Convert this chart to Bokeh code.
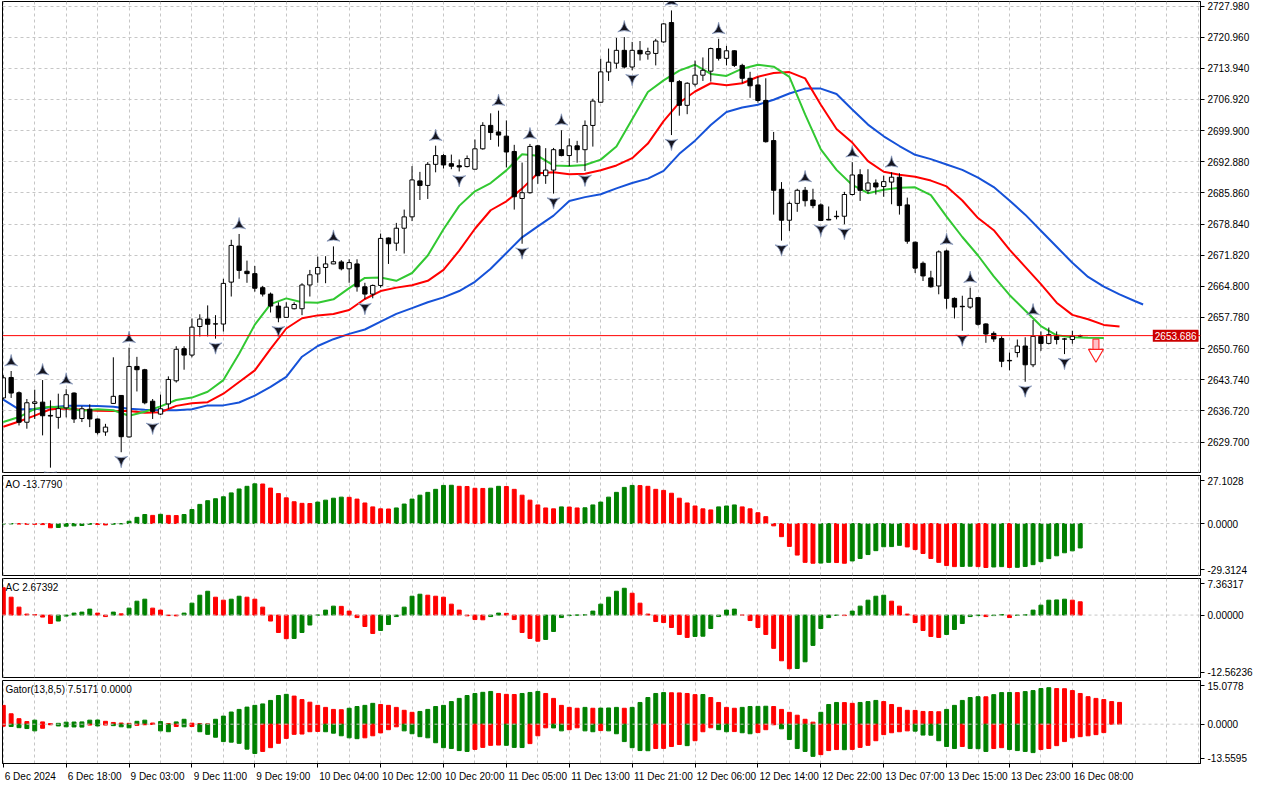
import math
from bokeh.plotting import figure
from bokeh.layouts import column
from bokeh.models import (Range1d, FixedTicker, LinearAxis, Grid, Span, Label,
                          PrintfTickFormatter, ColumnDataSource)
from bokeh.embed import file_html
from bokeh.resources import INLINE

# ---------------- data ----------------
time_labels = ["6 Dec 2024", "6 Dec 18:00", "9 Dec 03:00", "9 Dec 11:00", "9 Dec 19:00",
               "10 Dec 04:00", "10 Dec 12:00", "10 Dec 20:00", "11 Dec 05:00", "11 Dec 13:00",
               "11 Dec 21:00", "12 Dec 06:00", "12 Dec 14:00", "12 Dec 22:00", "13 Dec 07:00",
               "13 Dec 15:00", "13 Dec 23:00", "16 Dec 08:00"]
time_label_bars = [0, 8, 16, 24, 32, 40, 48, 56, 64, 72, 80, 88, 96, 104, 112, 120, 128, 136]

price_ticks = [2629.700, 2636.720, 2643.740, 2650.760, 2657.780, 2664.800, 2671.820, 2678.840,
               2685.860, 2692.880, 2699.900, 2706.920, 2713.940, 2720.960, 2727.980]
current_price = 2653.686

open_ = [2639.64, 2644.25, 2640.81, 2634.16, 2638.40, 2638.69, 2635.70, 2635.26, 2637.40, 2640.74,
         2635.00, 2637.10, 2634.89, 2631.96, 2638.40, 2640.20, 2630.85, 2646.74, 2646.00, 2638.90,
         2636.00, 2638.30, 2643.50, 2650.75, 2649.30, 2655.74, 2657.42, 2656.30, 2656.30, 2665.75,
         2673.87, 2668.20, 2667.66, 2664.50, 2663.05, 2660.35, 2657.80, 2659.75, 2659.75, 2665.10,
         2667.60, 2669.05, 2669.85, 2670.30, 2668.75, 2669.85, 2664.70, 2663.05, 2665.00, 2675.70,
         2674.53, 2677.90, 2680.46, 2688.57, 2687.55, 2692.30, 2694.28, 2692.45, 2692.00, 2691.80,
         2691.20, 2695.80, 2701.08, 2699.60, 2698.66, 2695.20, 2684.60, 2685.90, 2696.47, 2689.74,
         2691.00, 2695.60, 2694.28, 2696.47, 2695.60, 2701.07, 2706.30, 2713.14, 2715.10, 2718.00,
         2714.24, 2718.00, 2717.16, 2717.30, 2719.90, 2724.26, 2710.95, 2705.60, 2710.37, 2712.40,
         2713.30, 2718.40, 2716.20, 2717.90, 2714.60, 2711.70, 2710.20, 2706.70, 2697.65, 2686.67,
         2679.70, 2683.50, 2686.45, 2684.26, 2683.16, 2679.90, 2680.60, 2680.60, 2685.50, 2689.96,
         2686.45, 2688.10, 2687.30, 2688.30, 2689.40, 2683.16, 2674.75, 2669.99, 2666.70, 2664.88,
         2672.78, 2662.09, 2660.30, 2660.12, 2662.25, 2656.32, 2654.19, 2653.03, 2648.10, 2649.87,
         2651.34, 2647.11, 2653.53, 2651.93, 2653.53, 2652.94, 2652.81, 2653.60]
high = [2644.76, 2645.71, 2641.10, 2639.40, 2641.50, 2643.67, 2639.10, 2640.60, 2641.60, 2640.90,
        2637.80, 2638.20, 2635.00, 2633.80, 2648.80, 2640.30, 2650.97, 2648.90, 2646.20, 2639.40,
        2640.40, 2644.50, 2651.30, 2651.30, 2657.56, 2658.50, 2660.50, 2658.30, 2666.50, 2675.30,
        2676.60, 2670.60, 2669.40, 2664.90, 2663.40, 2661.20, 2661.20, 2661.20, 2665.50, 2668.50,
        2671.50, 2671.60, 2673.80, 2670.70, 2670.90, 2670.90, 2665.60, 2665.20, 2676.70, 2675.80,
        2679.10, 2682.10, 2691.90, 2690.60, 2692.80, 2696.50, 2694.60, 2694.50, 2693.40, 2694.30,
        2697.90, 2701.80, 2703.80, 2704.40, 2702.20, 2696.70, 2692.70, 2696.90, 2696.70, 2695.95,
        2696.00, 2699.98, 2698.15, 2697.60, 2702.20, 2707.10, 2716.10, 2718.40, 2720.80, 2721.00,
        2719.90, 2720.10, 2718.60, 2720.60, 2724.10, 2727.00, 2711.30, 2710.80, 2715.70, 2716.40,
        2718.60, 2720.60, 2719.00, 2718.00, 2714.97, 2713.15, 2712.05, 2711.70, 2699.60, 2688.30,
        2683.90, 2686.80, 2687.20, 2686.80, 2683.50, 2682.80, 2681.85, 2686.10, 2692.80, 2691.20,
        2691.20, 2688.90, 2689.75, 2690.50, 2690.30, 2684.80, 2674.89, 2670.40, 2668.30, 2672.90,
        2673.07, 2662.30, 2662.68, 2664.50, 2662.30, 2656.46, 2654.63, 2653.53, 2649.87, 2652.81,
        2653.32, 2657.20, 2654.63, 2655.51, 2654.63, 2653.16, 2654.79, 2653.90]
low = [2639.28, 2639.64, 2633.43, 2632.70, 2634.90, 2631.20, 2623.92, 2632.70, 2635.26, 2634.00,
       2634.20, 2633.06, 2631.40, 2631.10, 2638.30, 2627.40, 2630.70, 2641.10, 2638.20, 2634.90,
       2635.80, 2637.20, 2643.10, 2646.00, 2648.80, 2653.50, 2653.50, 2653.00, 2654.60, 2662.50,
       2666.50, 2665.60, 2663.60, 2662.50, 2658.90, 2656.70, 2657.70, 2659.60, 2658.30, 2662.50,
       2665.60, 2665.50, 2669.80, 2668.40, 2665.60, 2663.60, 2661.90, 2662.10, 2664.50, 2669.85,
       2672.80, 2672.20, 2679.50, 2684.26, 2684.50, 2690.50, 2691.35, 2691.20, 2690.70, 2691.60,
       2691.20, 2695.60, 2697.80, 2696.30, 2691.60, 2682.10, 2674.40, 2685.70, 2687.90, 2687.90,
       2685.70, 2694.10, 2691.90, 2692.67, 2690.80, 2696.30, 2706.20, 2711.10, 2713.90, 2713.90,
       2713.50, 2715.70, 2715.90, 2714.60, 2719.70, 2698.90, 2703.27, 2703.60, 2709.85, 2711.10,
       2710.95, 2715.70, 2714.60, 2714.24, 2710.60, 2707.30, 2706.20, 2697.20, 2680.97, 2675.10,
       2677.30, 2681.60, 2682.80, 2682.40, 2679.50, 2679.70, 2679.90, 2678.80, 2685.30, 2684.05,
       2685.70, 2685.50, 2684.99, 2683.30, 2680.97, 2674.40, 2667.80, 2666.00, 2664.50, 2663.00,
       2659.75, 2657.55, 2654.79, 2659.75, 2655.95, 2652.07, 2652.29, 2646.58, 2645.86, 2648.78,
       2643.29, 2646.58, 2650.25, 2651.71, 2651.71, 2649.52, 2651.85, 2653.40]
close = [2644.18, 2640.74, 2634.16, 2638.55, 2638.75, 2635.62, 2635.55, 2637.23, 2640.37, 2634.89,
         2637.20, 2634.90, 2631.82, 2633.06, 2640.00, 2630.90, 2646.74, 2646.00, 2638.55, 2636.60,
         2637.20, 2643.80, 2650.60, 2649.30, 2655.60, 2657.42, 2656.25, 2656.35, 2665.46, 2674.02,
         2668.39, 2667.66, 2664.37, 2663.05, 2660.35, 2657.70, 2660.10, 2660.70, 2665.10, 2667.40,
         2669.05, 2669.85, 2670.35, 2668.75, 2670.15, 2664.70, 2663.05, 2665.00, 2675.60, 2674.40,
         2677.90, 2680.46, 2688.79, 2687.55, 2692.30, 2694.28, 2692.16, 2691.87, 2691.70, 2693.60,
         2695.80, 2701.08, 2699.47, 2698.90, 2695.08, 2685.00, 2685.90, 2696.33, 2689.74, 2691.00,
         2695.60, 2694.28, 2696.47, 2695.60, 2701.07, 2706.56, 2713.14, 2715.33, 2718.00, 2714.24,
         2718.00, 2717.20, 2717.70, 2720.10, 2723.96, 2710.95, 2705.60, 2710.58, 2712.40, 2713.50,
         2718.40, 2716.20, 2717.90, 2714.60, 2711.70, 2710.00, 2706.70, 2697.40, 2686.45, 2679.70,
         2683.50, 2686.45, 2684.10, 2683.00, 2679.65, 2679.75, 2680.50, 2685.50, 2689.90, 2686.45,
         2688.10, 2687.20, 2688.40, 2689.40, 2683.00, 2674.97, 2668.90, 2667.14, 2664.70, 2672.56,
         2662.09, 2660.12, 2660.20, 2662.09, 2656.24, 2654.04, 2652.94, 2647.90, 2648.00, 2651.34,
         2647.11, 2653.53, 2651.93, 2653.91, 2652.81, 2652.90, 2653.53, 2653.686]

up_fractals = [1, 5, 8, 16, 30, 42, 55, 63, 67, 71, 79, 85, 91, 102, 108, 113, 120, 123, 131]
down_fractals = [6, 15, 19, 27, 35, 46, 58, 66, 70, 74, 80, 85, 99, 104, 107, 122, 130, 135]
sell_signal_bar = 139
sell_signal_price = 2652.9

# Alligator lines (jaw/teeth/lips) read every 2 bars, drawn with their forward shift
jaw_bars = list(range(0, 145, 2)) + [145]
jaw = [2639.28, 2637.08, 2637.08, 2637.52, 2637.85, 2637.85, 2637.81, 2637.63, 2637.19, 2636.97,
       2636.86, 2636.86, 2637.08, 2637.96, 2637.96, 2638.62, 2640.15, 2642.13, 2644.39, 2648.93,
       2651.34, 2652.88, 2654.08, 2655.07, 2656.83, 2658.58, 2659.90, 2661.22, 2662.31, 2663.74,
       2665.82, 2668.78, 2672.30, 2675.85, 2678.33, 2680.74, 2684.03, 2684.91, 2685.57, 2686.88,
       2688.09, 2689.08, 2690.83, 2694.67, 2697.64, 2701.15, 2704.11, 2705.10, 2705.75, 2706.85,
       2708.28, 2709.37, 2709.37, 2708.17, 2704.66, 2701.26, 2698.62, 2696.43, 2694.45, 2693.47,
       2692.26, 2691.05, 2689.30, 2687.17, 2684.14, 2680.96, 2677.34, 2673.72, 2670.10, 2666.92,
       2664.73, 2662.97, 2661.44, 2660.71]
teeth_bars = list(range(0, 143, 2))
teeth = [2633.13, 2634.34, 2635.66, 2637.08, 2637.24, 2636.97, 2636.75, 2636.71, 2636.71, 2636.31,
         2636.42, 2637.85, 2638.46, 2638.68, 2640.59, 2643.23, 2645.86, 2650.68, 2655.29, 2657.60,
         2658.25, 2658.58, 2659.46, 2661.94, 2663.74, 2664.51, 2665.06, 2666.04, 2668.52, 2672.84,
         2677.78, 2681.95, 2683.97, 2686.83, 2690.29, 2690.51, 2690.07, 2690.18, 2690.95, 2692.05,
         2693.69, 2696.98, 2702.03, 2706.19, 2708.72, 2710.58, 2710.14, 2710.58, 2712.05, 2712.88,
         2713.10, 2711.68, 2705.75, 2700.27, 2697.20, 2693.03, 2690.62, 2689.96, 2689.52, 2688.64,
         2687.32, 2684.14, 2680.19, 2677.45, 2673.06, 2669.18, 2665.30, 2661.11, 2658.36, 2657.37,
         2656.10, 2655.73]
lips_bars = list(range(0, 141, 2))
lips = [2634.23, 2635.33, 2637.19, 2637.67, 2637.45, 2636.75, 2637.08, 2636.86, 2635.61, 2636.53,
        2637.74, 2639.17, 2639.72, 2641.03, 2643.66, 2649.59, 2656.17, 2660.78, 2662.09, 2661.22,
        2661.11, 2661.87, 2664.40, 2666.70, 2666.81, 2666.04, 2667.80, 2671.75, 2677.67, 2682.94,
        2686.23, 2688.09, 2690.94, 2694.56, 2694.23, 2692.05, 2691.94, 2692.16, 2693.36, 2696.32,
        2702.46, 2708.61, 2711.24, 2713.43, 2714.75, 2712.67, 2712.23, 2713.87, 2714.75, 2714.31,
        2712.01, 2703.56, 2695.66, 2691.05, 2687.65, 2685.79, 2686.56, 2687.00, 2687.11, 2685.35,
        2680.52, 2675.92, 2671.75, 2667.03, 2662.86, 2659.35, 2655.84, 2653.75, 2653.32, 2653.21,
        2653.16]

ao = [-0.3, -0.2, -0.3, -0.4, -0.45, -0.6, -2.4, -2.2, -1.5, -1.3,
      -1.1, -0.4, -0.5, -0.8, -0.35, -0.2, 1.3, 3.5, 5.1, 4.6,
      5.2, 4.6, 4.5, 5.1, 7.9, 10.8, 12.9, 14.0, 15.1, 17.3,
      19.5, 21.0, 22.4, 22.3, 20.0, 16.9, 14.5, 12.3, 11.4, 11.3,
      12.1, 13.2, 14.3, 14.9, 14.8, 13.8, 11.6, 9.4, 8.3, 8.2,
      8.8, 11.0, 13.8, 16.0, 17.6, 19.3, 21.5, 21.6, 21.0, 20.9,
      19.9, 19.8, 19.95, 21.0, 20.9, 19.3, 16.0, 13.2, 10.5, 8.8,
      8.3, 9.4, 9.3, 8.8, 8.9, 10.5, 12.1, 14.9, 17.6, 20.4,
      21.5, 21.4, 21.0, 19.3, 18.7, 17.1, 14.3, 11.6, 9.9, 8.3,
      7.7, 9.4, 9.9, 10.5, 9.4, 8.3, 6.1, 3.9, -1.3, -7.4,
      -12.9, -17.8, -21.9, -22.4, -22.3, -21.9, -22.0, -22.4, -21.1, -19.7,
      -17.5, -15.3, -13.1, -13.0, -12.3, -13.2, -14.7, -16.9, -19.7, -21.9,
      -23.7, -24.3, -24.2, -24.1, -24.3, -24.8, -24.5, -24.3, -24.8, -24.7,
      -24.2, -23.2, -21.5, -19.8, -18.2, -16.5, -15.4, -13.779]
ac = [5.5, 3.6, 1.6, 0.2, 0.1, -0.4, -1.7, -1.2, -0.2, 0.4,
      0.6, 1.2, 0.4, -0.3, 0.6, 0.25, 1.4, 2.8, 3.2, 1.4,
      1.0, -0.1, -0.15, 0.4, 2.4, 4.0, 4.8, 3.6, 3.0, 3.2,
      3.8, 3.6, 3.2, 1.6, -1.2, -3.5, -4.75, -4.7, -3.5, -2.0,
      0.0, 1.0, 1.8, 1.75, 0.8, -0.5, -2.3, -3.7, -3.1, -1.9,
      -0.3, 1.6, 3.8, 4.2, 4.0, 3.8, 3.6, 2.2, 1.0, -0.15,
      -0.9, -0.95, -0.3, 0.4, 0.35, -0.9, -3.5, -4.7, -5.25, -4.9,
      -3.3, -0.5, -0.1, 0.0, 0.05, 0.8, 2.2, 3.6, 4.8, 5.4,
      4.4, 2.4, 0.2, -1.3, -1.5, -2.5, -3.9, -4.5, -4.3, -4.25,
      -2.7, -0.3, 1.0, 1.2, 0.0, -1.1, -2.5, -3.9, -6.7, -9.2,
      -10.8, -10.75, -9.4, -6.1, -2.7, -0.5, -0.05, -0.1, 0.8, 1.8,
      3.0, 3.8, 4.0, 2.8, 1.8, 0.2, -1.5, -3.1, -4.3, -4.5,
      -3.9, -2.9, -1.7, -0.3, -0.1, -0.3, -0.1, 0.1, -0.5, -0.05,
      0.05, 1.0, 2.0, 3.0, 3.05, 3.2, 3.0, 2.67392]
gator_upper = [6.5, 3.6, 1.9, 0.9, 1.4, 0.8, 0.2, 0.3, 0.7, 0.75,
               0.8, 1.4, 1.45, 1.0, 0.6, 0.4, 0.3, 1.0, 1.4, 0.4,
               0.9, 0.2, 0.8, 1.7, 0.35, 0.2, 0.1, 1.7, 2.8, 4.2,
               5.1, 5.9, 6.5, 7.0, 8.2, 9.9, 10.3, 9.7, 8.5, 7.6,
               6.5, 5.8, 5.1, 5.0, 5.5, 6.1, 6.5, 7.2, 6.8, 6.5,
               5.8, 4.8, 4.1, 4.4, 5.1, 6.1, 6.5, 7.8, 8.9, 9.9,
               10.6, 11.0, 11.3, 10.6, 10.3, 10.25, 10.6, 10.95, 11.3, 10.6,
               8.9, 6.5, 5.8, 5.5, 5.8, 5.5, 5.55, 5.6, 5.8, 5.5,
               5.8, 7.5, 9.2, 10.6, 10.9, 10.85, 10.8, 10.6, 10.2, 10.25,
               9.2, 7.5, 5.8, 5.5, 5.8, 6.1, 6.15, 6.2, 6.1, 5.1,
               4.1, 3.1, 1.7, 0.7, 4.1, 6.8, 7.5, 7.45, 7.2, 7.5,
               7.8, 8.2, 7.8, 6.8, 5.8, 4.8, 4.75, 4.4, 4.35, 4.3,
               5.1, 6.5, 8.2, 9.2, 9.5, 9.45, 10.2, 10.9, 10.95, 10.9,
               11.25, 11.6, 12.3, 12.6, 12.3, 12.25, 11.6, 10.6, 9.5, 8.9,
               8.5, 7.8, 7.5171]
gator_lower = [-0.7, -0.8, -1.2, -1.5, -2.3, -1.4, -0.2, -0.6, -0.9, -0.95,
               -1.0, -0.3, -0.6, -0.3, -0.5, -0.9, -1.25, -0.4, -0.2, -0.1,
               -2.3, -2.6, -0.8, -0.9, -0.8, -2.6, -3.5, -4.5, -6.0, -6.2,
               -6.6, -8.6, -10.1, -9.4, -8.1, -6.6, -4.9, -3.5, -3.4, -2.6,
               -2.5, -2.6, -3.1, -4.0, -4.7, -5.0, -4.7, -4.0, -3.0, -1.9,
               -0.9, -2.3, -3.3, -4.3, -4.7, -6.4, -8.1, -8.4, -9.1, -9.4,
               -8.7, -8.0, -7.3, -7.2, -7.3, -8.0, -8.05, -6.7, -4.0, -1.25,
               -1.3, -2.3, -1.9, -1.25, -2.3, -2.6, -2.2, -2.3, -3.3, -6.0,
               -8.1, -9.1, -9.15, -8.4, -8.35, -7.7, -7.0, -7.4, -5.7, -2.6,
               -1.25, -1.9, -2.6, -2.55, -2.95, -3.3, -2.9, -1.9, -0.2, -1.6,
               -5.3, -8.4, -9.4, -11.1, -10.5, -9.1, -8.75, -8.8, -8.7, -8.0,
               -7.3, -5.7, -3.6, -2.95, -2.6, -2.3, -2.4, -3.75, -3.8, -5.7,
               -7.7, -8.4, -7.7, -8.4, -8.45, -9.4, -8.4, -8.1, -8.75, -9.1,
               -9.4, -9.8, -8.75, -8.4, -7.4, -6.0, -4.7, -4.3, -4.0, -3.6,
               -2.9]

ao_range = (-29.3124, 27.1028)
ac_range = (-12.56236, 7.36317)
gator_range = (-13.5595, 15.0778)
price_range = (2622.83, 2729.01)

# ---------------- styling ----------------
FONT = "Liberation Sans"
FS = "10px"
FS_PX = 10.0
GREEN = "#008000"
RED = "#ff0000"
GRID = "#c6c6c6"
FRAME_W = 1198
X_LO, X_HI = -0.1, 152.3
PPB = FRAME_W / (X_HI - X_LO)
x_rng = Range1d(X_LO, X_HI)
grid_ticks = list(range(0, 153, 4))


def panel(frame_h, lo, hi, top=2, bottom=1):
    p = figure(frame_width=FRAME_W, frame_height=frame_h, x_range=x_rng,
               y_range=Range1d(lo, hi), output_backend="svg", toolbar_location=None,
               x_axis_location=None, y_axis_location="right",
               min_border_left=2, min_border_right=62, min_border_top=top,
               min_border_bottom=bottom, outline_line_color="black", outline_line_width=1,
               background_fill_color="white", border_fill_color="white")
    p.xgrid.visible = False
    p.ygrid.visible = False
    p.add_layout(Grid(dimension=0, ticker=FixedTicker(ticks=grid_ticks),
                      grid_line_color=GRID, grid_line_dash="3 3"))
    ax = p.yaxis[0]
    ax.axis_line_color = "black"
    ax.major_tick_out = 4
    ax.major_tick_in = 0
    ax.major_tick_line_color = "black"
    ax.minor_tick_line_color = None
    ax.major_label_text_font = FONT
    ax.major_label_text_font_size = FS
    ax.major_label_text_color = "black"
    ax.major_label_standoff = 3
    return p


def edge_ticks(p, rng, frame_h, labels):
    lo, hi = rng
    px = (hi - lo) / frame_h
    t_hi = round(hi - 5.0 * px, 5)
    t_lo = round(lo + 5.5 * px, 5)
    ax = p.yaxis[0]
    ax.ticker = FixedTicker(ticks=[t_lo, 0, t_hi], minor_ticks=[])
    ax.major_label_overrides = {t_lo: labels[0], 0: labels[1], t_hi: labels[2]}
    p.add_layout(Span(location=0, dimension="width", line_color=GRID, line_dash="3 3"))


def title(p, rng, text):
    p.add_layout(Label(x=X_LO, y=rng[1], x_offset=3, y_offset=-3, text=text,
                       text_font=FONT, text_font_size=FS, text_color="black",
                       text_baseline="top", text_align="left"))


def up_down_colors(vals, first, use_abs=False):
    cols = [first]
    for i in range(1, len(vals)):
        a, b = (abs(vals[i]), abs(vals[i - 1])) if use_abs else (vals[i], vals[i - 1])
        cols.append(GREEN if a > b else RED)
    return cols


# ---------------- price panel ----------------
PRICE_H = 471
pp = panel(PRICE_H, *price_range, top=1, bottom=1)
pp.add_layout(Grid(dimension=1, ticker=FixedTicker(ticks=price_ticks),
                   grid_line_color=GRID, grid_line_dash="3 3"))
pax = pp.yaxis[0]
pax.ticker = FixedTicker(ticks=price_ticks, minor_ticks=[])
pax.formatter = PrintfTickFormatter(format="%.3f")

bars = list(range(len(close)))
csrc = ColumnDataSource(dict(
    x=bars, high=high, low=low,
    top=[max(o, c) for o, c in zip(open_, close)],
    bottom=[min(o, c) for o, c in zip(open_, close)],
    fill=["white" if c >= o else "black" for o, c in zip(open_, close)]))

pp.line(jaw_bars, jaw, line_color="#1652d8", line_width=2)
pp.line(teeth_bars, teeth, line_color="#ff0000", line_width=2)
pp.line(lips_bars, lips, line_color="#32c832", line_width=2)

pp.segment(x0="x", y0="low", x1="x", y1="high", source=csrc, line_color="black", line_width=1)
pp.vbar(x="x", width=0.55, top="top", bottom="bottom", source=csrc,
        fill_color="fill", line_color="black", line_width=1)

pp.add_layout(Span(location=current_price, dimension="width", line_color="#ff0000", line_width=1))

px_price = (price_range[1] - price_range[0]) / PRICE_H
pp.scatter(up_fractals, [high[i] + 9 * px_price for i in up_fractals], marker="triangle_pin",
           size=13, fill_color="#15151f", line_color="#8a9cc0", line_width=0.8)
pp.scatter(down_fractals, [low[i] - 8 * px_price for i in down_fractals], marker="triangle_pin",
           angle=math.pi, size=13, fill_color="#15151f", line_color="#8a9cc0", line_width=0.8)

# sell signal arrow (hollow red arrow)
pp.rect([sell_signal_bar], [sell_signal_price - 5.5 * px_price], width=6, height=11,
        width_units="screen", height_units="screen", fill_color="#ffc0c8", line_color="#ff2020",
        line_width=1)
pp.scatter([sell_signal_bar], [sell_signal_price - 14.5 * px_price], marker="inverted_triangle",
           size=15, fill_color="white", line_color="#ff2020", line_width=1.2)

# current-price tag (kept inside the frame, at its right edge)
pp.add_layout(Label(x=X_HI, y=current_price, x_offset=-2, text="%.3f" % current_price,
                    text_font=FONT, text_font_size=FS, text_color="white",
                    background_fill_color="#cc0000", text_baseline="middle",
                    text_align="right", padding=2))

# ---------------- AO ----------------
AO_H = 100
pao = panel(AO_H, *ao_range)
edge_ticks(pao, ao_range, AO_H, ["%.4f" % ao_range[0], "0.0000", "%.4f" % ao_range[1]])
pao.vbar(x=list(range(len(ao))), top=ao, bottom=0, width=0.5,
         color=up_down_colors(ao, GREEN))
title(pao, ao_range, "AO %.4f" % ao[-1])

# ---------------- AC ----------------
AC_H = 99
pac = panel(AC_H, *ac_range)
edge_ticks(pac, ac_range, AC_H, ["%.5f" % ac_range[0], "0.00000", "%.5f" % ac_range[1]])
pac.vbar(x=list(range(len(ac))), top=ac, bottom=0, width=0.5,
         color=up_down_colors(ac, RED))
title(pac, ac_range, "AC %.5f" % ac[-1])

# ---------------- Gator ----------------
GT_H = 83
pgt = panel(GT_H, *gator_range, top=2, bottom=0)
edge_ticks(pgt, gator_range, GT_H, ["%.4f" % gator_range[0], "0.0000", "%.4f" % gator_range[1]])
pgt.vbar(x=list(range(len(gator_upper))), top=gator_upper, bottom=0, width=0.5,
         color=up_down_colors(gator_upper, RED))
pgt.vbar(x=list(range(len(gator_lower))), top=gator_lower, bottom=0, width=0.5,
         color=up_down_colors(gator_lower, RED, use_abs=True))
title(pgt, gator_range, "Gator(13,8,5) %.4f %.4f" % (gator_upper[-1], 0.0))

# time axis: labels left-aligned at their tick (MT4 style); Liberation Sans advance widths (em)
CHAR_EM = {" ": 0.278, ":": 0.278, "D": 0.722, "e": 0.556, "c": 0.5}
centers = []
for lab, b in zip(time_labels, time_label_bars):
    w = sum(CHAR_EM.get(ch, 0.556) for ch in lab) * FS_PX
    centers.append(round(b + (w / 2 + 1.5) / PPB, 3))
tax = LinearAxis(ticker=FixedTicker(ticks=centers, minor_ticks=time_label_bars),
                 major_label_overrides={c: lab for c, lab in zip(centers, time_labels)})
tax.major_tick_out = 0
tax.major_tick_in = 0
tax.minor_tick_out = 4
tax.minor_tick_in = 0
tax.minor_tick_line_color = "black"
tax.axis_line_color = "black"
tax.major_label_standoff = 3
tax.major_label_text_font = FONT
tax.major_label_text_font_size = FS
tax.major_label_text_color = "black"
pgt.add_layout(tax, "below")

layout = column(pp, pao, pac, pgt, spacing=0)
open("out.html", "w").write(file_html(layout, INLINE, "XAUUSD H1"))
